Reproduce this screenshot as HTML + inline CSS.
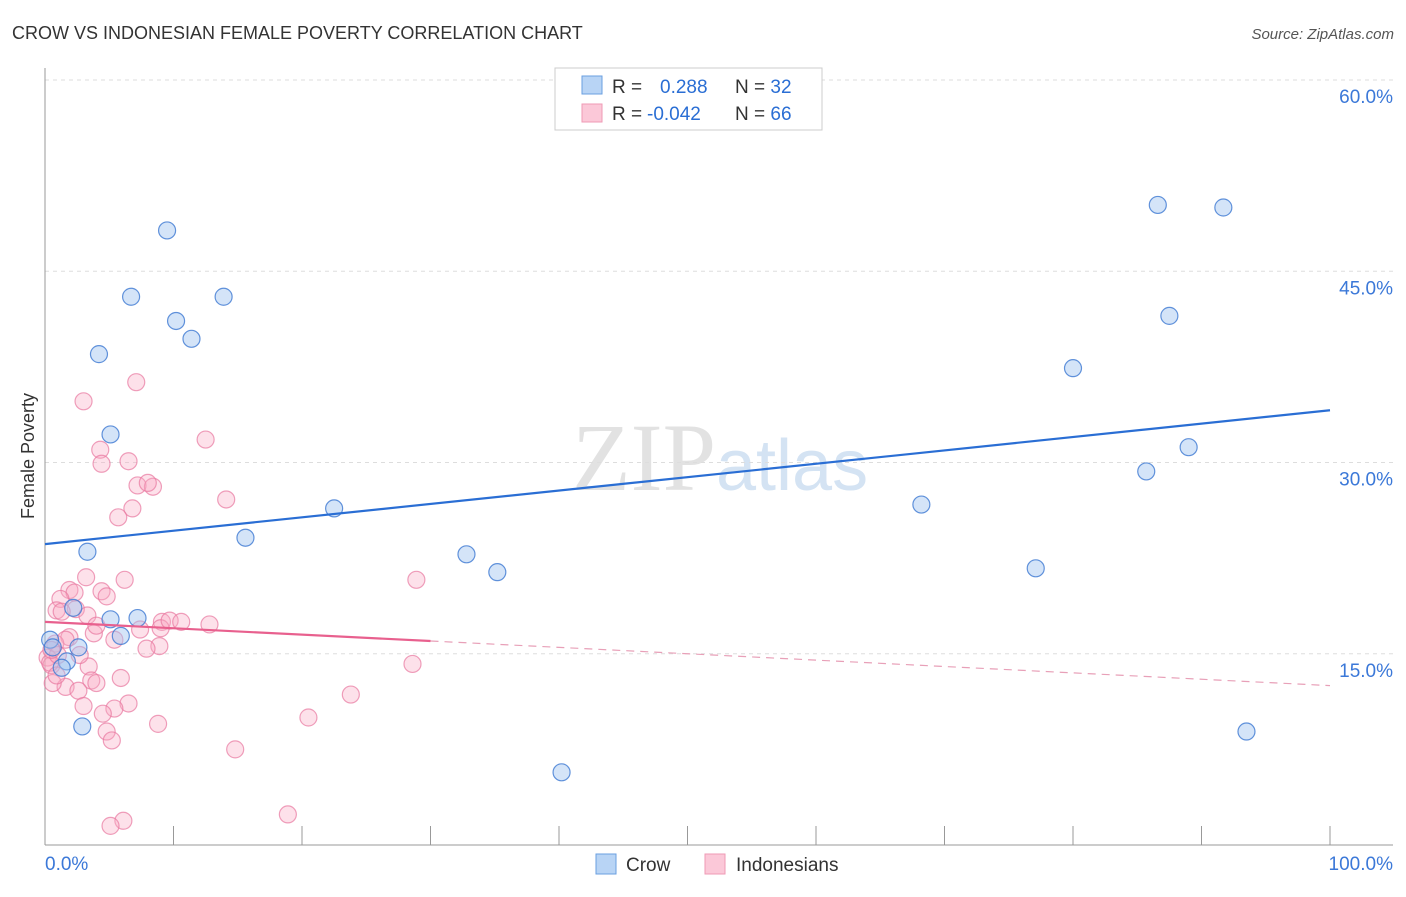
<!DOCTYPE html><html><head><meta charset="utf-8"><style>
body{margin:0;background:#fff;font-family:"Liberation Sans",sans-serif}
#c{position:relative;width:1406px;height:892px}
</style></head><body><div id="c">
<svg id="s" width="1406" height="892" xmlns="http://www.w3.org/2000/svg">
<text x="12" y="39" font-size="18" fill="#333">CROW VS INDONESIAN FEMALE POVERTY CORRELATION CHART</text>
<text x="1394" y="39" font-size="15" fill="#555" font-style="italic" text-anchor="end">Source: ZipAtlas.com</text>
<text x="34" y="456" font-size="18" fill="#333" transform="rotate(-90 34 456)" text-anchor="middle">Female Poverty</text>
<text x="716" y="490" font-size="96" fill="#e2e2e2" font-family="Liberation Serif,serif" text-anchor="end">ZIP</text>
<text x="716" y="490" font-size="72" fill="#d4e3f3" text-anchor="start">atlas</text>
<g id="grid"></g><g id="pts"></g><g id="lines"></g>
<g>
<rect x="555" y="68" width="267" height="62" fill="#fff" stroke="#ccc"/>
<rect x="582" y="76" width="20" height="18" fill="#b8d4f5" stroke="#6a9fe0"/>
<rect x="582" y="104" width="20" height="18" fill="#fbc8d8" stroke="#ef9ab5"/>
<text x="612" y="93" font-size="19" fill="#333">R = <tspan fill="#2a6ed4" x="660">0.288</tspan><tspan x="735" fill="#333">N = </tspan><tspan fill="#2a6ed4">32</tspan></text>
<text x="612" y="120" font-size="19" fill="#333">R = <tspan fill="#2a6ed4" x="647">-0.042</tspan><tspan x="735" fill="#333">N = </tspan><tspan fill="#2a6ed4">66</tspan></text>
</g>
<g>
<rect x="596" y="854" width="20" height="20" fill="#b8d4f5" stroke="#6a9fe0"/>
<text x="626" y="871" font-size="19" fill="#333">Crow</text>
<rect x="705" y="854" width="20" height="20" fill="#fbc8d8" stroke="#ef9ab5"/>
<text x="736" y="871" font-size="19" fill="#333">Indonesians</text>
</g>
</svg></div>
<script>
const crowX=[9.5,6.7,13.9,10.2,11.4,4.2,5.1,3.3,15.6,22.5,32.8,35.2,40.2,7.2,5.1,5.9,2.2,0.4,0.6,1.7,1.3,2.6,2.9,86.6,91.7,87.5,80.0,89.0,85.7,68.2,77.1,93.5];
const crowY=[48.2,43.0,43.0,41.1,39.7,38.5,32.2,23.0,24.1,26.4,22.8,21.4,5.7,17.8,17.7,16.4,18.6,16.1,15.5,14.4,13.9,15.5,9.3,50.2,50.0,41.5,37.4,31.2,29.3,26.7,21.7,8.9];
const indoX=[7.1,3.0,12.5,4.3,4.4,6.5,7.2,8.4,8.0,14.1,6.8,5.7,6.2,3.2,1.9,2.3,1.2,0.9,2.4,4.4,4.8,3.3,1.3,1.9,3.8,4.0,7.4,9.1,9.0,9.7,10.6,12.8,5.4,8.9,7.9,0.8,0.2,0.5,3.4,3.6,4.0,5.9,1.6,2.6,0.6,3.0,6.5,5.4,4.5,4.8,5.2,8.8,14.8,20.5,23.8,28.6,28.9,18.9,6.1,5.1,0.4,1.0,0.5,0.9,1.6,2.7];
const indoY=[36.3,34.8,31.8,31.0,29.9,30.1,28.2,28.1,28.4,27.1,26.4,25.7,20.8,21.0,20.0,19.8,19.3,18.4,18.5,19.9,19.5,18.0,18.3,16.3,16.6,17.2,16.9,17.5,17.0,17.6,17.5,17.3,16.1,15.6,15.4,15.8,14.7,14.1,14.0,12.9,12.7,13.1,12.4,12.1,12.7,10.9,11.1,10.7,10.3,8.9,8.2,9.5,7.5,10.0,11.8,14.2,20.8,2.4,1.9,1.5,14.3,14.9,15.3,13.3,16.1,14.9];
const yTicks=[15,30,45,60];
const xTicks=[0,10,20,30,40,50,60,70,80,90,100];
const crowTrend=[23.6,34.1];
const indoTrend=[17.5,12.5];
const NS='http://www.w3.org/2000/svg';
const sx=v=>45+v*12.85, sy=v=>845-v*12.75;
function mk(t,a,p){const e=document.createElementNS(NS,t);for(const k in a)e.setAttribute(k,a[k]);p.appendChild(e);return e;}
const g=document.getElementById('grid'),P=document.getElementById('pts'),L=document.getElementById('lines');
yTicks.forEach(v=>{const l=mk('line',{x1:45,x2:1393,y1:sy(v),y2:sy(v),stroke:'#ddd','stroke-dasharray':'4,4'},g);


const t=mk('text',{x:1393,y:sy(v)+23,'font-size':19,fill:'#3b78d8','text-anchor':'end'},g);t.textContent=v.toFixed(1)+'%';

});
mk('line',{x1:45,x2:45,y1:68,y2:845,stroke:'#999'},g);
mk('line',{x1:45,x2:1393,y1:845,y2:845,stroke:'#999'},g);
xTicks.forEach(v=>{if(v>0){const l=mk('line',{x1:sx(v),x2:sx(v),y1:826,y2:845,stroke:'#999'},g);

}});
[[0,'start'],[100,'end']].forEach(([v,a])=>{const t=mk('text',{x:v?1393:45,y:870,'font-size':19,fill:'#3b78d8','text-anchor':a},g);t.textContent=v.toFixed(1)+'%';

});
indoX.forEach((x,i)=>{const c=mk('circle',{cx:sx(x),cy:sy(indoY[i]),r:8.5,fill:'rgba(248,170,195,0.35)',stroke:'rgba(232,120,160,0.7)','stroke-width':1.2},P);

});
crowX.forEach((x,i)=>{const c=mk('circle',{cx:sx(x),cy:sy(crowY[i]),r:8.5,fill:'rgba(160,196,240,0.45)',stroke:'rgba(60,120,210,0.8)','stroke-width':1.2},P);

});
const l1=mk('line',{x1:sx(0),y1:sy(crowTrend[0]),x2:sx(100),y2:sy(crowTrend[1]),stroke:'#2a6ed4','stroke-width':2.2},L);


const f=x=>indoTrend[0]+(indoTrend[1]-indoTrend[0])*x/100;
const l2=mk('line',{x1:sx(0),y1:sy(f(0)),x2:sx(30),y2:sy(f(30)),stroke:'#e8608e','stroke-width':2.2},L);


const l3=mk('line',{x1:sx(30),y1:sy(f(30)),x2:sx(100),y2:sy(f(100)),stroke:'#e8a0b8','stroke-width':1.2,'stroke-dasharray':'8,6'},L);


</script></body></html>
